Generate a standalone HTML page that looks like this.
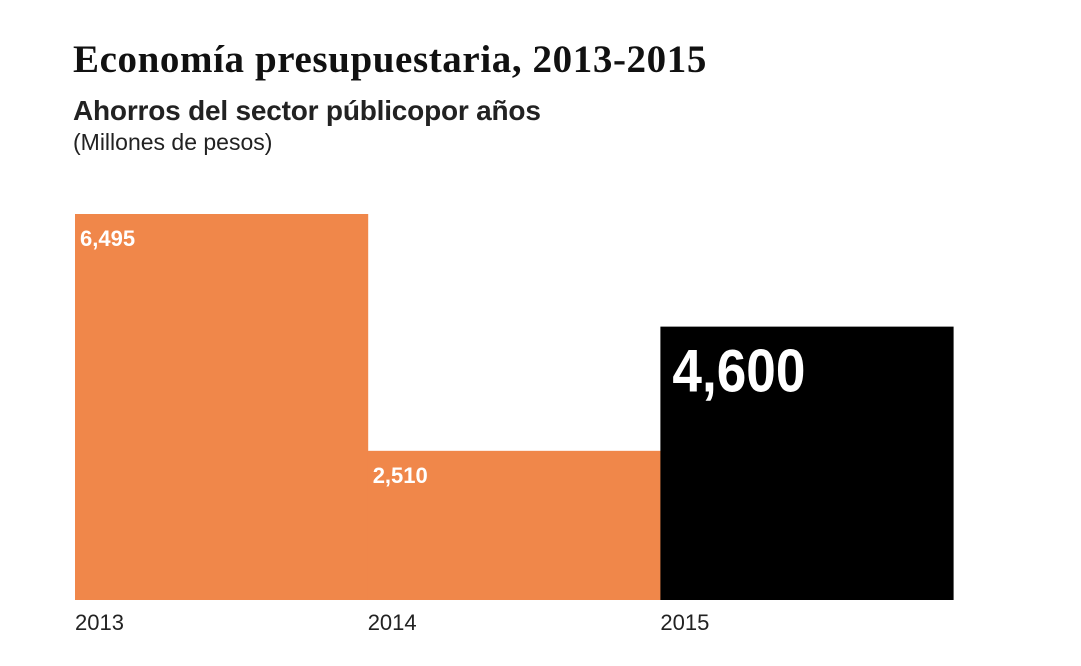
<!DOCTYPE html>
<html><head><meta charset="utf-8"><style>
body{margin:0;width:1081px;height:666px;background:#fff;overflow:hidden;font-family:"Liberation Sans",sans-serif;position:relative}
.t{position:absolute;white-space:nowrap;color:#111}
</style></head><body>
<div class="t" style="left:73px;top:37px;font-family:'Liberation Serif',serif;font-weight:bold;font-size:39px;letter-spacing:0.6px">Economía presupuestaria, 2013-2015</div>
<div class="t" style="left:73px;top:95px;font-size:28px;font-weight:bold;color:#222;letter-spacing:-0.2px">Ahorros del sector públicopor años</div>
<div class="t" style="left:73px;top:129px;font-size:23px;color:#222">(Millones de pesos)</div>
<svg id="c" width="1081" height="666" style="position:absolute;left:0;top:0"></svg>
<script>
const categories=["2013","2014","2015"];
const values=[6495,2510,4600];
const labels=["6,495","2,510","4,600"];
const colors=["#f0874a","#f0874a","#000000"];
const svg=document.getElementById('c');
const NS="http://www.w3.org/2000/svg";
const x0=75,bw=292.7,baseY=600,k=386/6495;
const xs=i=>x0+i*bw;
const ys=v=>baseY-v*k;
categories.forEach((c,i)=>{
  const r=document.createElementNS(NS,'rect');
  r.setAttribute('x',xs(i));r.setAttribute('y',ys(values[i]));
  r.setAttribute('width',bw+0.5);r.setAttribute('height',baseY-ys(values[i]));
  r.setAttribute('fill',colors[i]);
  
  
  svg.appendChild(r);
  const big=i===2;
  const t=document.createElementNS(NS,'text');
  t.setAttribute('x',xs(i)+(big?12:5));
  t.setAttribute('y',ys(values[i])+(big?65:32));
  t.setAttribute('fill','#fff');
  t.setAttribute('font-family','Liberation Sans, sans-serif');
  t.setAttribute('font-weight','bold');
  t.setAttribute('font-size',big?'60':'22');
  if(big){t.setAttribute('textLength','133');t.setAttribute('lengthAdjust','spacingAndGlyphs');}
  t.textContent=labels[i];
  
  
  svg.appendChild(t);
  const a=document.createElementNS(NS,'text');
  a.setAttribute('x',xs(i));a.setAttribute('y',630);
  a.setAttribute('fill','#222');a.setAttribute('font-size','22');
  a.setAttribute('font-family','Liberation Sans, sans-serif');
  a.textContent=c;
  
  
  svg.appendChild(a);
});
</script>
</body></html>
